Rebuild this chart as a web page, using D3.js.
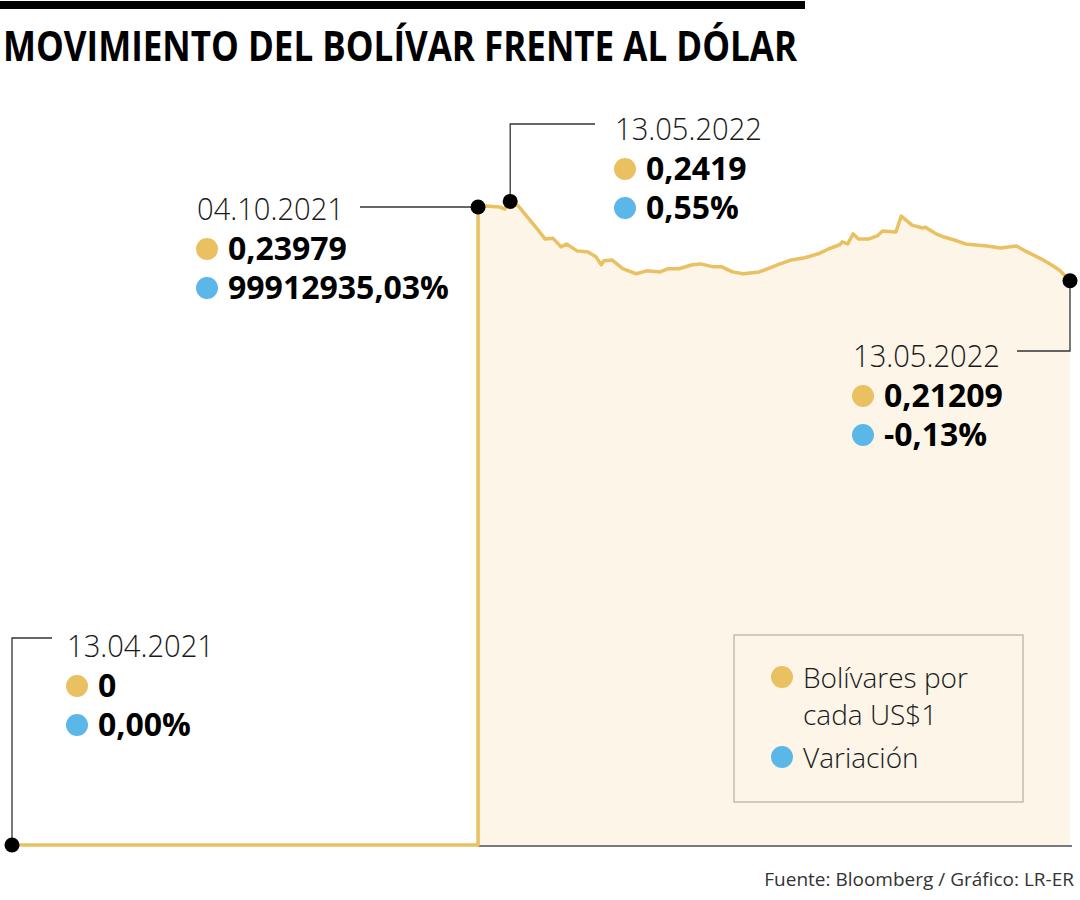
<!DOCTYPE html>
<html>
<head>
<meta charset="utf-8">
<script src="https://cdn.jsdelivr.net/npm/d3@7"></script>
<style>
  body { margin: 0; background: #fff; }
  svg text { font-family: "Open Sans", "DejaVu Sans", sans-serif; }
</style>
</head>
<body>
<div id="vis"></div>
<script>
// bolívares por US$1
const dates = [
  "2021-04-13", "2021-10-04", "2021-10-04", "2021-10-07", "2021-10-12", "2021-10-14",
  "2021-10-16", "2021-10-19", "2021-10-23", "2021-10-27", "2021-10-29", "2021-11-01",
  "2021-11-04", "2021-11-06", "2021-11-10", "2021-11-14", "2021-11-17", "2021-11-19",
  "2021-11-20", "2021-11-23", "2021-11-27", "2021-12-02", "2021-12-06", "2021-12-11",
  "2021-12-14", "2021-12-18", "2021-12-23", "2021-12-26", "2021-12-31", "2022-01-03",
  "2022-01-07", "2022-01-11", "2022-01-17", "2022-01-21", "2022-01-24", "2022-01-29",
  "2022-02-03", "2022-02-08", "2022-02-12", "2022-02-16", "2022-02-17", "2022-02-19",
  "2022-02-21", "2022-02-23", "2022-02-27", "2022-03-02", "2022-03-04", "2022-03-09",
  "2022-03-11", "2022-03-15", "2022-03-19", "2022-03-20", "2022-03-24", "2022-03-27",
  "2022-04-01", "2022-04-04", "2022-04-12", "2022-04-17", "2022-04-23", "2022-04-27",
  "2022-05-03", "2022-05-06", "2022-05-09", "2022-05-13"
];
const values = [
  0, 0, 0.23979, 0.2402, 0.2398, 0.2390,
  0.2419, 0.2402, 0.2353, 0.2304, 0.2278, 0.2280,
  0.2248, 0.2259, 0.2233, 0.2229, 0.2211, 0.2181,
  0.2196, 0.2199, 0.2166, 0.2147, 0.2158, 0.2154,
  0.2166, 0.2166, 0.2181, 0.2184, 0.2173, 0.2173,
  0.2154, 0.2147, 0.2154, 0.2169, 0.2181, 0.2199,
  0.2207, 0.2222, 0.2241, 0.2256, 0.2267, 0.2259,
  0.2297, 0.2278, 0.2278, 0.2289, 0.2308, 0.2304,
  0.2364, 0.2330, 0.2319, 0.2322, 0.2297, 0.2285,
  0.2270, 0.2259, 0.2251, 0.2244, 0.2251, 0.2229,
  0.2199, 0.2181, 0.2161, 0.21209
];

// annotated points (index into the series)
const annIndex = [0, 2, 6, 63];
const annLabels = ["13.04.2021", "04.10.2021", "13.05.2022", "13.05.2022"];
const annRates = ["0", "0,23979", "0,2419", "0,21209"];
const annChanges = ["0,00%", "99912935,03%", "0,55%", "-0,13%"];

const legendLabels = [["Bolívares por", "cada US$1"], ["Variación"]];

const title = "MOVIMIENTO DEL BOLÍVAR FRENTE AL DÓLAR";
const source = "Fuente: Bloomberg / Gráfico: LR-ER";

const gold = "#e9c163", blue = "#5cb7e9", cream = "#fcf5e8", ink = "#1a1a1a";

const width = 1080, height = 900;
const parse = d3.timeParse("%Y-%m-%d");
const data = dates.map((d, i) => ({ date: parse(d), value: values[i] }));

const svg = d3.select("#vis").append("svg")
  .attr("width", width)
  .attr("height", height);

const x = d3.scaleTime()
  .domain(d3.extent(data, d => d.date))
  .range([12, 1070]);

const y = d3.scaleLinear()
  .domain([0, 0.23979])
  .range([845, 207]);

// header
svg.append("rect").attr("x", 0).attr("y", 1).attr("width", 805).attr("height", 8).attr("fill", "#000");
svg.append("text")
  .attr("x", 3).attr("y", 61)
  .attr("font-size", 42).attr("font-weight", 700)
  .attr("textLength", 794).attr("lengthAdjust", "spacingAndGlyphs")
  .attr("fill", "#000")
  .text(title);

// area under the line
const area = d3.area()
  .x(d => x(d.date))
  .y0(y(0))
  .y1(d => y(d.value));

svg.append("path")
  .datum(data)
  .attr("d", area)
  .attr("fill", cream);

const jump = data.find(d => d.value > 0);
svg.append("line")
  .attr("x1", x(jump.date)).attr("x2", x(data[data.length - 1].date) + 2)
  .attr("y1", y(0) + 1).attr("y2", y(0) + 1)
  .attr("stroke", "#7a7a7a").attr("stroke-width", 2);

// legend
const lg = svg.append("g").attr("transform", "translate(734,635)");
lg.append("rect")
  .attr("width", 289).attr("height", 167)
  .attr("fill", cream).attr("stroke", "#b3afa7").attr("stroke-width", 1.2);
const legendColors = [gold, blue];
let ly = 53;
legendLabels.forEach((lines, i) => {
  lg.append("circle").attr("cx", 48).attr("cy", ly - 11).attr("r", 11).attr("fill", legendColors[i]);
  lines.forEach((s, j) => {
    lg.append("text")
      .attr("x", 69).attr("y", ly + j * 37)
      .attr("font-size", 28).attr("font-weight", 300)
      .attr("fill", ink)
      .text(s);
  });
  ly += lines.length * 37 + 6;
});

// the line
const line = d3.line()
  .x(d => x(d.date))
  .y(d => y(d.value));

svg.append("path")
  .datum(data)
  .attr("d", line)
  .attr("fill", "none")
  .attr("stroke", gold)
  .attr("stroke-width", 3.5)
  .attr("stroke-linejoin", "round");

// annotations: label block position and leader path
const annLayout = [
  { tx: 67, ty: 657, leader: (px, py) => [[px, py], [px, 638], [52, 638]] },
  { tx: 197, ty: 220, leader: (px, py) => [[px, py], [360, py]] },
  { tx: 615, ty: 140, leader: (px, py) => [[px, py], [px, 124], [595, 124]] },
  { tx: 853, ty: 367, leader: (px, py) => [[px, py], [px, 351], [1017, 351]] }
];

annIndex.forEach((k, i) => {
  const p = data[k];
  const px = x(p.date), py = y(p.value);
  const L = annLayout[i];

  svg.append("path")
    .attr("d", d3.line()(L.leader(px, py)))
    .attr("fill", "none").attr("stroke", "#333").attr("stroke-width", 1.3);

  svg.append("circle").attr("cx", px).attr("cy", py).attr("r", 7.5).attr("fill", "#000");

  const g = svg.append("g").attr("transform", `translate(${L.tx},${L.ty})`);
  g.append("text")
    .attr("font-size", 32).attr("font-weight", 300)
    .attr("textLength", 147).attr("lengthAdjust", "spacingAndGlyphs")
    .attr("fill", ink)
    .text(annLabels[i]);

  [[annRates[i], gold], [annChanges[i], blue]].forEach(([t, c], j) => {
    const by = 40 + j * 39;
    g.append("circle").attr("cx", 10).attr("cy", by - 11).attr("r", 11).attr("fill", c);
    g.append("text")
      .attr("x", 31).attr("y", by)
      .attr("font-size", 32).attr("font-weight", 700)
      .attr("fill", "#000")
      .text(t);
  });
});

// source
svg.append("text")
  .attr("x", 1074).attr("y", 886)
  .attr("text-anchor", "end")
  .attr("font-size", 19)
  .attr("fill", "#333")
  .text(source);
</script>
</body>
</html>
